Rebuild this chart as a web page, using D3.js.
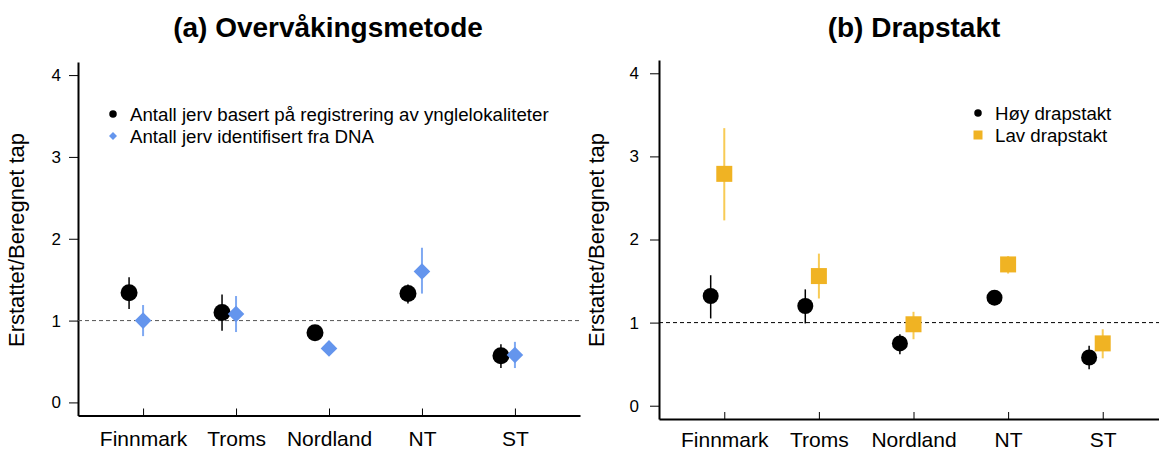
<!DOCTYPE html>
<html>
<head>
<meta charset="utf-8">
<script src="https://cdn.jsdelivr.net/npm/d3@7"></script>
<style>
  body { margin: 0; background: #fff; }
  svg { font-family: "Liberation Sans", Arial, sans-serif; }
</style>
</head>
<body>
<script>
//data
var categories = ["Finnmark", "Troms", "Nordland", "NT", "ST"];
var yTicks = [0, 1, 2, 3, 4];

// (a) overvåkingsmetode
var regMean = [1.34, 1.10, 0.85, 1.33, 0.57];
var regLo   = [1.14, 0.875, 0.80, 1.21, 0.42];
var regHi   = [1.53, 1.32, 0.90, 1.44, 0.71];
var dnaMean = [1.00, 1.08, 0.66, 1.60, 0.58];
var dnaLo   = [0.81, 0.86, 0.62, 1.33, 0.42];
var dnaHi   = [1.19, 1.30, 0.70, 1.89, 0.74];

// (b) drapstakt
var hoyMean = [1.32, 1.20, 0.75, 1.30, 0.58];
var hoyLo   = [1.05, 0.99, 0.62, 1.23, 0.44];
var hoyHi   = [1.57, 1.40, 0.86, 1.37, 0.72];
var lavMean = [2.79, 1.56, 0.98, 1.70, 0.75];
var lavLo   = [2.23, 1.29, 0.80, 1.59, 0.57];
var lavHi   = [3.34, 1.83, 1.13, 1.80, 0.92];

var legendA = ["Antall jerv basert på registrering av ynglelokaliteter", "Antall jerv identifisert fra DNA"];
var legendB = ["Høy drapstakt", "Lav drapstakt"];

var blue = "#6495ED", blueBar = "#7FA9F2";
var gold = "#F0B323", goldBar = "#F8CB55";

var svg = d3.select("body").append("svg")
  .attr("width", 1159)
  .attr("height", 452);

function toRows(mean, lo, hi){
  return categories.map((c, i) => ({cat: c, v: mean[i], lo: lo[i], hi: hi[i]}));
}

//draw one panel
function panel(opt){
  var g = svg.append("g");

  var x = d3.scalePoint().domain(categories)
    .range([opt.left, opt.right]).padding(opt.pad);
  var y = d3.scaleLinear().domain([-0.16, 4.16])
    .range([opt.bottom, opt.top]);

  //title
  g.append("text")
    .attr("x", opt.titleX).attr("y", 37)
    .attr("text-anchor", "middle")
    .attr("font-size", 28).attr("font-weight", "bold")
    .text(opt.title);

  //y axis
  var ya = g.append("g")
    .attr("transform", "translate(" + opt.left + ",0)")
    .call(d3.axisLeft(y).tickValues(yTicks).tickFormat(d3.format("d"))
      .tickSize(9).tickSizeOuter(0).tickPadding(opt.tickPad));
  ya.select(".domain").attr("stroke-width", 2);
  ya.selectAll(".tick text").attr("font-size", 17).attr("fill", "#000");

  //x axis, ticks point inward
  var xa = g.append("g")
    .attr("transform", "translate(0," + opt.bottom + ")")
    .call(d3.axisBottom(x).tickSize(-7).tickSizeOuter(0).tickPadding(0));
  xa.select(".domain").attr("stroke-width", 2);
  xa.selectAll(".tick text").attr("font-size", 21).attr("fill", "#000")
    .attr("dy", null).attr("y", opt.labelY - opt.bottom);

  //y label
  g.append("text")
    .attr("transform", "translate(" + opt.ylabX + ",240) rotate(-90)")
    .attr("text-anchor", "middle")
    .attr("font-size", 22)
    .text("Erstattet/Beregnet tap");

  //reference line
  g.append("line")
    .attr("x1", opt.left).attr("x2", opt.right)
    .attr("y1", y(1)).attr("y2", y(1))
    .attr("stroke", opt.refColor).attr("stroke-width", 1)
    .attr("stroke-dasharray", "4,3");

  //series
  opt.series.forEach(function(s){
    var rows = toRows(s.mean, s.lo, s.hi);
    var sg = g.append("g");
    sg.selectAll("line.err").data(rows).enter().append("line")
      .attr("class", "err")
      .attr("x1", d => x(d.cat) + s.dx).attr("x2", d => x(d.cat) + s.dx)
      .attr("y1", d => y(d.lo)).attr("y2", d => y(d.hi))
      .attr("stroke", s.barColor).attr("stroke-width", s.barWidth);
    sg.selectAll("path.pt").data(rows).enter().append("path")
      .attr("class", "pt")
      .attr("transform", d => "translate(" + (x(d.cat) + s.dx) + "," + y(d.v) + ")")
      .attr("d", d3.symbol().type(s.shape).size(s.size))
      .attr("fill", s.color);
  });

  //legend
  opt.series.forEach(function(s, i){
    var ly = opt.legY + i * 22;
    g.append("path")
      .attr("transform", "translate(" + opt.legX + "," + ly + ")")
      .attr("d", d3.symbol().type(s.shape).size(s.legSize))
      .attr("fill", s.color);
    g.append("text")
      .attr("x", opt.legX + 17).attr("y", ly + 6.5)
      .attr("font-size", 18.7)
      .text(opt.legend[i]);
  });
}

var diamond = {
  draw: function(ctx, size){
    var r = Math.sqrt(size / 2);
    ctx.moveTo(0, -r); ctx.lineTo(r, 0); ctx.lineTo(0, r); ctx.lineTo(-r, 0); ctx.closePath();
  }
};

panel({
  left: 78, right: 580, pad: 0.7, top: 62, bottom: 415.5,
  title: "(a) Overvåkingsmetode", titleX: 328,
  tickPad: 8, labelY: 446, ylabX: 24, refColor: "#555",
  legX: 113, legY: 114, legend: legendA,
  series: [
    {mean: regMean, lo: regLo, hi: regHi, dx: -14, shape: d3.symbolCircle, size: Math.PI * 8.5 * 8.5,
     legSize: Math.PI * 14, color: "#000", barColor: "#000", barWidth: 1.5},
    {mean: dnaMean, lo: dnaLo, hi: dnaHi, dx: 0, shape: diamond, size: 2 * 8.3 * 8.3,
     legSize: 2 * 4 * 4, color: blue, barColor: blueBar, barWidth: 2}
  ]
});

panel({
  left: 659, right: 1168, pad: 0.69, top: 60, bottom: 419,
  title: "(b) Drapstakt", titleX: 914,
  tickPad: 11, labelY: 447, ylabX: 604, refColor: "#000",
  legX: 978, legY: 113, legend: legendB,
  series: [
    {mean: hoyMean, lo: hoyLo, hi: hoyHi, dx: -13.6, shape: d3.symbolCircle, size: Math.PI * 8 * 8,
     legSize: Math.PI * 14, color: "#000", barColor: "#000", barWidth: 1.5},
    {mean: lavMean, lo: lavLo, hi: lavHi, dx: 0, shape: d3.symbolSquare, size: 16 * 16,
     legSize: 9 * 9, color: gold, barColor: goldBar, barWidth: 2}
  ]
});
</script>
</body>
</html>
